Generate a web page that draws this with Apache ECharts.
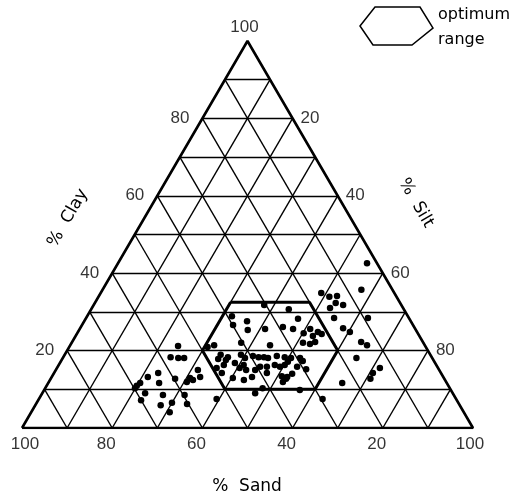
<!DOCTYPE html>
<html>
<head>
<meta charset="utf-8">
<script src="https://cdn.jsdelivr.net/npm/echarts@6/dist/echarts.min.js"></script>
<style>
  html, body { margin: 0; padding: 0; background: #fff; }
  #chart { width: 529px; height: 498px; }
</style>
</head>
<body>
<div id="chart"></div>
<script>
// soil samples: % clay and % silt (sand is what is left)
const sampleClay = [
  42.6, 35.7, 34.9, 33.9, 34.1, 32.3, 31.8, 31.0, 28.4, 28.4, 25.8, 24.8, 22.2, 21.4, 18.1, 15.5, 14.2, 12.7, 11.6, 7.5,
  31.8, 30.7, 28.2, 28.9, 27.6, 26.6, 25.3, 25.6, 26.1, 25.6, 24.5, 25.6, 23.8, 24.8, 24.3, 22.0, 21.4, 22.0, 21.7, 22.2,
  20.9, 21.4, 17.8, 18.9, 17.6, 18.3, 18.9, 18.1, 18.6, 18.3, 18.3, 18.1, 18.6, 18.3, 18.1, 18.1, 17.3, 15.5, 16.3, 14.2,
  16.8, 15.5, 15.0, 16.3, 15.0, 15.8, 15.8, 16.3, 15.8, 17.1, 15.8, 15.2, 12.9, 12.4, 13.2, 14.2, 13.4, 12.7, 14.0, 15.0,
  12.9, 12.4, 10.3, 9.0, 9.8, 7.5, 16.3, 13.2, 11.9,
  21.2, 18.3, 18.1, 18.1, 14.2, 13.2, 12.7, 11.9, 13.2, 11.6, 11.6, 10.9, 10.3, 9.0, 8.5, 8.5, 7.2, 5.9, 6.5, 6.2, 4.1
];
const sampleSilt = [
  55.2, 57.4, 48.9, 51.2, 52.8, 53.4, 55.3, 52.8, 55.0, 62.5, 58.3, 60.3, 64.1, 65.8, 65.1, 71.6, 70.7, 70.9, 65.2, 62.9,
  37.8, 43.8, 47.1, 32.1, 36.1, 33.5, 37.4, 41.1, 44.8, 47.3, 50.2, 51.1, 52.6, 53.2, 54.3, 37.6, 44.3, 51.3, 53.0, 53.9,
  30.7, 31.9, 34.6, 34.6, 36.4, 36.5, 39.1, 40.4, 41.9, 43.3, 44.5, 45.5, 47.2, 49.1, 50.6, 52.6, 53.6, 35.4, 36.6, 37.2,
  38.8, 40.5, 42.2, 41.0, 44.2, 44.9, 46.4, 47.9, 49.3, 50.4, 53.1, 55.4, 40.3, 43.0, 44.4, 47.2, 50.9, 52.2, 52.9, 31.5,
  30.8, 31.7, 48.2, 47.2, 56.7, 39.4, 50.1, 52.2, 51.9,
  24.0, 23.8, 25.6, 26.9, 23.1, 21.3, 27.6, 30.6, 32.9, 24.6, 20.4, 20.0, 19.9, 22.8, 27.0, 31.8, 22.8, 27.8, 30.0, 33.5, 30.7
];

// optimum range corners (% clay, % silt)
const optimumClay = [32.5, 32.5, 20, 10, 10, 20];
const optimumSilt = [30, 47.5, 60, 60, 40, 30];

const gridSteps = [10, 20, 30, 40, 50, 60, 70, 80, 90];
const clayTicks = [20, 40, 60, 80, 100];
const siltTicks = [20, 40, 60, 80, 100];
const sandTicks = [100, 80, 60, 40, 20];

const FONT = 'Liberation Sans';
const WIDE = 'DejaVu Sans';
const INK = '#000';

// ternary -> plane: x runs sand corner (0) to silt corner (100), y is clay
function toXY(clay, silt) {
  return [silt + clay / 2, clay];
}

const gridLines = [];
gridSteps.forEach((k) => {
  gridLines.push({ coords: [toXY(k, 0), toXY(k, 100 - k)] });          // clay
  gridLines.push({ coords: [toXY(0, k), toXY(100 - k, k)] });          // silt
  gridLines.push({ coords: [toXY(0, 100 - k), toXY(100 - k, 0)] });    // sand
});

const border = [toXY(0, 0), toXY(100, 0), toXY(0, 100), toXY(0, 0)];

const hexagon = optimumClay.map((c, i) => toXY(c, optimumSilt[i]));
hexagon.push(hexagon[0]);

const samples = sampleClay.map((c, i) => toXY(c, sampleSilt[i]));

const tickLabel = { show: true, fontFamily: FONT, fontSize: 17, color: INK, formatter: (p) => p.value[2] };

const clayLabels = clayTicks.map((t) => ({
  value: [...toXY(t, 0), t],
  label: t === 100 ? { position: 'top', distance: 5, offset: [-3, 0] } : { position: 'left', distance: 13 }
}));
const siltLabels = siltTicks.map((t) => ({
  value: [...toXY(100 - t, t), t],
  label: t === 100 ? { position: 'bottom', distance: 8, offset: [-3, 0] } : { position: 'right', distance: 8 }
}));
const sandLabels = sandTicks.map((t) => ({
  value: [...toXY(0, 100 - t), t],
  label: { position: 'bottom', distance: 8, offset: [t === 100 ? 3 : -6, 0] }
}));

const chart = echarts.init(document.getElementById('chart'));

const option = {
  animation: false,
  backgroundColor: '#fff',
  grid: { left: 22, top: 41, width: 451, height: 387 },
  xAxis: { type: 'value', min: 0, max: 100, show: false },
  yAxis: { type: 'value', min: 0, max: 100, show: false },
  series: [
    {
      type: 'lines',
      coordinateSystem: 'cartesian2d',
      data: gridLines,
      lineStyle: { color: INK, width: 1.4, opacity: 1 },
      silent: true,
      z: 1
    },
    {
      type: 'line',
      data: border,
      symbol: 'none',
      lineStyle: { color: INK, width: 2.6 },
      silent: true,
      z: 2
    },
    {
      type: 'line',
      data: hexagon,
      symbol: 'none',
      lineStyle: { color: INK, width: 3 },
      silent: true,
      z: 3
    },
    {
      type: 'scatter',
      data: samples,
      symbol: 'circle',
      symbolSize: 6.5,
      itemStyle: { color: INK, opacity: 1 },
      z: 4
    },
    { type: 'scatter', data: clayLabels, symbolSize: 0, label: tickLabel, z: 5 },
    { type: 'scatter', data: siltLabels, symbolSize: 0, label: tickLabel, z: 5 },
    { type: 'scatter', data: sandLabels, symbolSize: 0, label: tickLabel, z: 5 }
  ],
  graphic: [
    {
      type: 'text', x: 68, y: 218, rotation: Math.PI / 3,
      style: { text: '%  Clay', font: '17px "' + WIDE + '"', fill: INK, align: 'center', verticalAlign: 'middle' }
    },
    {
      type: 'text', x: 416, y: 203, rotation: -Math.PI / 3,
      style: { text: '%  Silt', font: '17px "' + WIDE + '"', fill: INK, align: 'center', verticalAlign: 'middle' }
    },
    {
      type: 'text', x: 247, y: 487,
      style: { text: '%  Sand', font: '17px "' + WIDE + '"', fill: INK, align: 'center', verticalAlign: 'middle' }
    },
    {
      type: 'polygon',
      shape: { points: [[360, 26], [375, 7], [420, 7], [433, 28], [412, 45], [373, 45]] },
      style: { fill: 'none', stroke: INK, lineWidth: 1.5 }
    },
    {
      type: 'text', x: 438, y: 15,
      style: { text: 'optimum', font: '16px "' + WIDE + '"', fill: INK, verticalAlign: 'middle' }
    },
    {
      type: 'text', x: 438, y: 40,
      style: { text: 'range', font: '16px "' + WIDE + '"', fill: INK, verticalAlign: 'middle' }
    }
  ]
};

chart.setOption(option);

window.addEventListener('resize', () => chart.resize());
</script>
</body>
</html>
